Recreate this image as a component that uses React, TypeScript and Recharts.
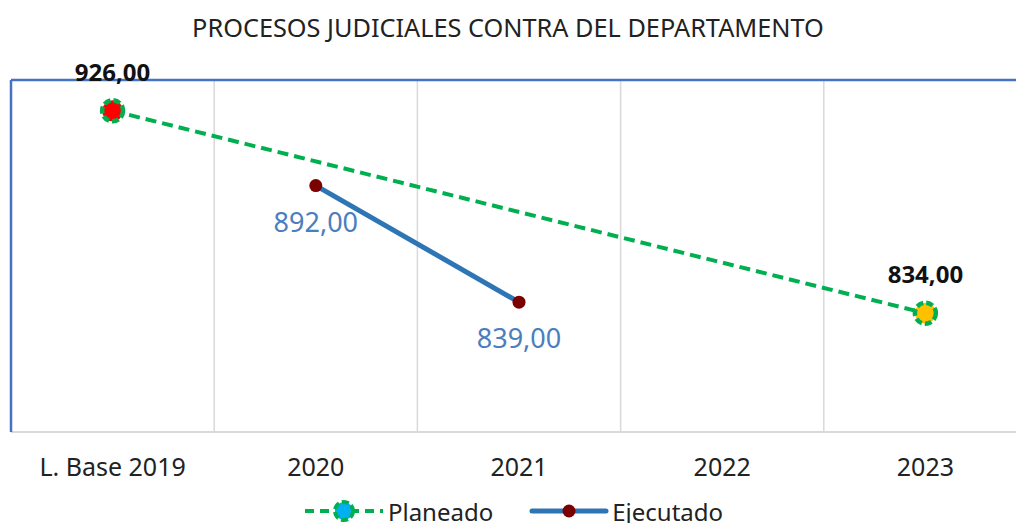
import { LineChart, Line, XAxis, YAxis, CartesianGrid, Legend, ReferenceLine, LabelList } from 'recharts'

const categories = ['L. Base 2019', '2020', '2021', '2022', '2023']
const planeado = [926, null, null, null, 834]
const ejecutado = [null, 892, 839, null, null]
const yDomain = [780, 940]

// colores de relleno de cada punto del planeado
const planeadoFills = ['#FF0000', '#00B0F0', '#00B0F0', '#00B0F0', '#FFC000']

const FONT = '"Noto Sans", "Open Sans", sans-serif'

const chartData = categories.map((name, i) => ({
  name,
  planeado: planeado[i],
  ejecutado: ejecutado[i],
}))

const fmt = (v: any) => (v == null ? '' : Number(v).toFixed(2).replace('.', ','))

function PlaneadoDot(props: any) {
  const { cx, cy, index, value } = props
  if (value == null || cx == null || cy == null) return null
  return (
    <circle key={`pd-${index}`} cx={cx} cy={cy} r={10.5} fill={planeadoFills[index]} stroke="#00B050" strokeWidth={4.5} strokeDasharray="7 3" />
  )
}

function EjecutadoDot(props: any) {
  const { cx, cy, index, value } = props
  if (value == null || cx == null || cy == null) return null
  return <circle key={`ed-${index}`} cx={cx} cy={cy} r={6.5} fill="#7B0000" />
}

function CustomLegend() {
  return (
    <div style={{ display: 'flex', justifyContent: 'center', alignItems: 'center', height: 30, fontFamily: FONT, fontSize: 24, color: '#222', gap: 36, paddingRight: 10 }}>
      <div style={{ display: 'flex', alignItems: 'center' }}>
        <svg width={82} height={30}>
          <line x1={2} y1={15} x2={80} y2={15} stroke="#00B050" strokeWidth={4} strokeDasharray="9 6" />
          <circle cx={41} cy={15} r={9} fill="#00B0F0" stroke="#00B050" strokeWidth={4} strokeDasharray="7 3" />
        </svg>
        <span style={{ marginLeft: 3 }}>Planeado</span>
      </div>
      <div style={{ display: 'flex', alignItems: 'center' }}>
        <svg width={80} height={30}>
          <line x1={3} y1={15} x2={77} y2={15} stroke="#2E75B6" strokeWidth={5} strokeLinecap="round" />
          <circle cx={40} cy={15} r={6.5} fill="#7B0000" />
        </svg>
        <span style={{ marginLeft: 3 }}>Ejecutado</span>
      </div>
    </div>
  )
}

export default function App() {
  return (
    <div style={{ position: 'fixed', left: 0, top: 0, width: 1016, height: 523, overflow: 'hidden', background: '#fff' }}>
      <div style={{ position: 'absolute', top: 10, width: 1016, textAlign: 'center', fontFamily: FONT, fontSize: 25.3, lineHeight: '34px', color: '#222' }}>
        PROCESOS JUDICIALES CONTRA DEL DEPARTAMENTO
      </div>
      <LineChart width={1030} height={526} data={chartData} margin={{ top: 80, right: 3, left: 9, bottom: 0 }}>
        <CartesianGrid
          horizontal={false}
          stroke="#D9D9D9"
          strokeWidth={1.5}
          verticalCoordinatesGenerator={({ offset }: any) =>
            categories.slice(1).map((_, i) => offset.left + ((i + 1) * offset.width) / categories.length)
          }
        />
        <XAxis
          dataKey="name"
          height={64}
          padding={{ left: 101.6, right: 101.6 }}
          tickLine={false}
          axisLine={{ stroke: '#D9D9D9', strokeWidth: 2 }}
          tick={{ fontFamily: FONT, fontSize: 25, fill: '#222' }}
          dy={18}
        />
        <YAxis domain={yDomain} width={2} tick={false} tickLine={false} axisLine={{ stroke: '#4472C4', strokeWidth: 2.5 }} />
        <ReferenceLine y={yDomain[1]} stroke="#4472C4" strokeWidth={2.5} />
        <Legend verticalAlign="bottom" content={<CustomLegend />} />
        <Line
          dataKey="planeado"
          connectNulls
          stroke="#00B050"
          strokeWidth={4}
          strokeDasharray="11 6"
          dot={<PlaneadoDot />}
          activeDot={false}
          isAnimationActive={false}
        >
          <LabelList dataKey="planeado" position="top" offset={30} formatter={fmt} style={{ fontFamily: FONT, fontSize: 24, fontWeight: 700, fill: '#111' }} />
        </Line>
        <Line
          dataKey="ejecutado"
          stroke="#2E75B6"
          strokeWidth={5}
          dot={<EjecutadoDot />}
          activeDot={false}
          isAnimationActive={false}
        >
          <LabelList dataKey="ejecutado" position="bottom" offset={27} formatter={fmt} style={{ fontFamily: FONT, fontSize: 27, fill: '#4A7EBE' }} />
        </Line>
      </LineChart>
    </div>
  )
}
